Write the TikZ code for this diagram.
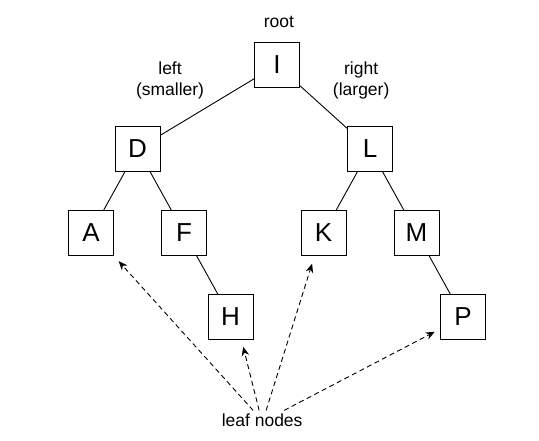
\documentclass[tikz,border=0pt]{standalone}
\usepackage{fontspec}
\setmainfont{Liberation Sans}
\usetikzlibrary{arrows.meta}

\begin{document}
\begin{tikzpicture}[x=46.5pt, y=84pt,
        key/.style = {draw, line width=1pt, minimum size=45pt, inner sep=0pt, font=\fontsize{26}{30}\selectfont},
        note/.style = {align=center, font=\fontsize{17.5}{21}\selectfont},
        leafarrow/.style = {dash pattern=on 5pt off 3.5pt, line width=0.9pt, -{Stealth[length=9pt, width=7.5pt]}}]
            \useasboundingbox (-1.957, 0.774) rectangle (9.634, -4.464);

            \node[key] (I) at (4,0) {I};
            \node[key] (D) at (1,-1) {D};
            \node[key] (L) at (6,-1) {L};
            \node[key] (A) at (0,-2) {A};
            \node[key] (F) at (2,-2) {F};
            \node[key] (K) at (5,-2) {K};
            \node[key] (M) at (7,-2) {M};
            \node[key] (H) at (3,-3) {H};
            \node[key] (P) at (8,-3) {P};

            \node[note] (root) at (4.04,0.51) {root};
            \node[note] (left) at (1.70,-0.18) {left\\(smaller)};
            \node[note] (right) at (5.81,-0.18) {right\\(larger)};
            \node[note] (leaf) at (3.68,-4.23) {leaf nodes};

            \draw[line width=0.9pt] (I) -- (D);
            \draw[line width=0.9pt] (I) -- (L);
            \draw[line width=0.9pt] (D) -- (A);
            \draw[line width=0.9pt] (D) -- (F);
            \draw[line width=0.9pt] (F) -- (H);
            \draw[line width=0.9pt] (L) -- (K);
            \draw[line width=0.9pt] (L) -- (M);
            \draw[line width=0.9pt] (M) -- (P);

            \draw[leafarrow, shorten >=7pt] ([xshift=-9pt]leaf.north) -- (A.south east);
            \draw[leafarrow, shorten >=7pt] ([xshift=-3pt]leaf.north) -- ([xshift=11pt]H.south);
            \draw[leafarrow, shorten >=8pt] ([xshift=4pt]leaf.north) -- ([xshift=-9pt]K.south);
            \draw[leafarrow, shorten >=6pt] ([xshift=22pt]leaf.north) -- ([yshift=-12pt]P.west);
        \end{tikzpicture}
\end{document}
